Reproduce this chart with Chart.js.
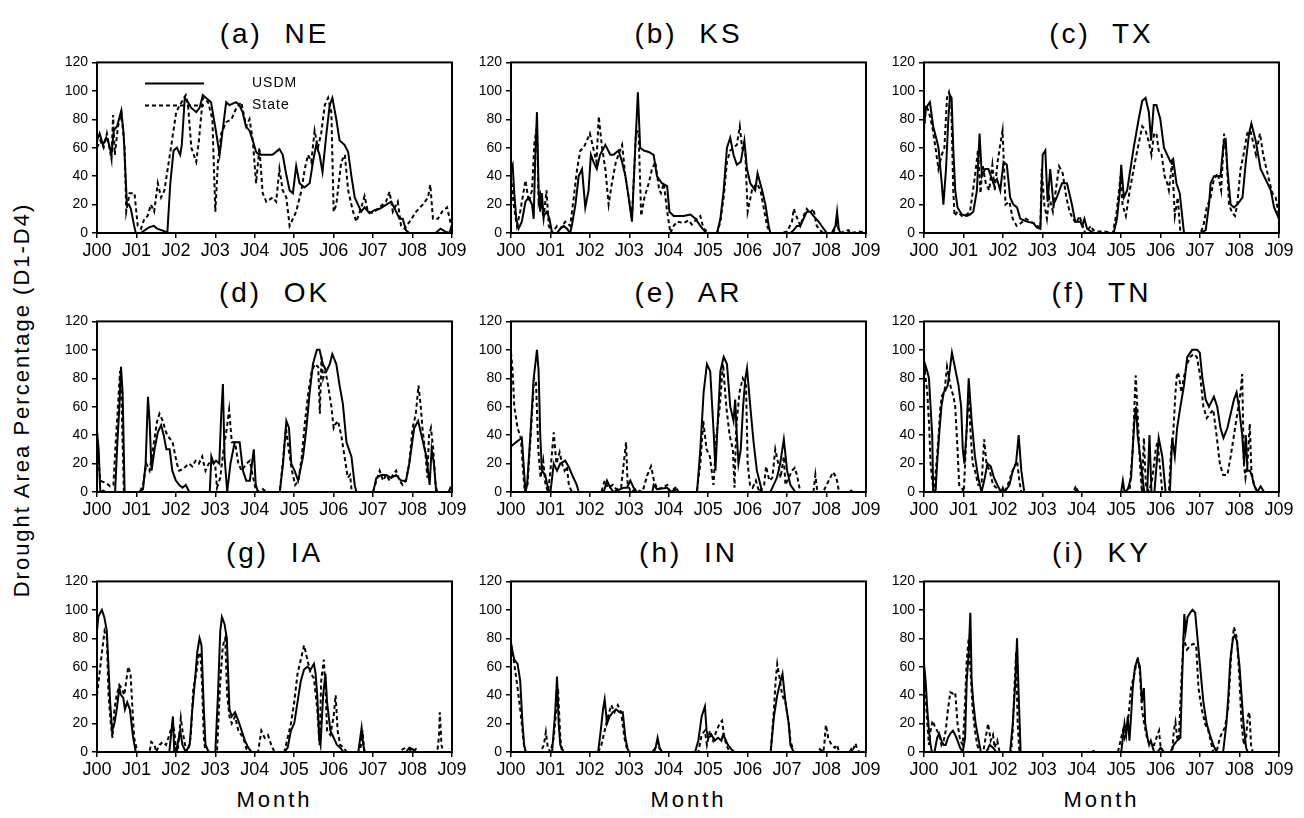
<!DOCTYPE html>
<html>
<head>
<meta charset="utf-8">
<script src="https://cdn.jsdelivr.net/npm/chart.js@4.4.0/dist/chart.umd.min.js"></script>
<style>
  body { margin: 0; background: #fff; width: 1304px; height: 818px; position: relative; overflow: hidden; font-family: 'Liberation Sans', sans-serif; color: #000; }
  .panel { position: absolute; }
  .title { position: absolute; transform: translate(-50%, -50%); font-size: 28px; letter-spacing: 3px; word-spacing: 0px; white-space: pre; }
  .month { position: absolute; transform: translate(-50%, -50%); font-size: 22px; letter-spacing: 3px; }
  .ylab { position: absolute; left: 22px; top: 400px; transform: translate(-50%, -50%) rotate(-90deg); font-size: 22px; letter-spacing: 2px; white-space: nowrap; }
</style>
</head>
<body>
<div class="ylab">Drought Area Percentage (D1-D4)</div>
<script>
// x = months since Jan 2000, y = drought area percentage
const yearLabels = ['J00', 'J01', 'J02', 'J03', 'J04', 'J05', 'J06', 'J07', 'J08', 'J09'];
const panelTitles = ['(a)  NE', '(b)  KS', '(c)  TX', '(d)  OK', '(e)  AR', '(f)  TN', '(g)  IA', '(h)  IN', '(i)  KY'];
const seriesNames = ['USDM', 'State'];

const neUsdm = [[0,65],[0.8,70],[1.8,62],[2.8,67],[3.6,63],[4.4,55],[5.1,72],[6.1,75],[6.9,82],[7.4,86],[8.1,70],[8.7,40],[9.1,20],[9.7,20],[10.3,17],[11.3,5],[11.8,0],[13.3,0],[15.8,4],[17.3,5],[18.3,3],[20.8,1],[21.4,0],[22.3,35],[23.3,58],[24.3,60],[25.3,55],[25.8,62],[26.7,95],[27.7,92],[28.7,88],[30.2,85],[31.2,88],[32.2,97],[33.2,95],[34.7,92],[35.2,85],[36.3,70],[37.3,55],[39.3,92],[40.3,90],[42.3,92],[43.3,90],[44.3,85],[45.3,75],[46.4,72],[47.4,65],[48.4,57],[49.4,55],[53.4,55],[55.5,59],[56.5,55],[57.5,42],[58.6,30],[59.6,28],[60.6,47],[61.6,35],[63.1,32],[64.7,35],[65.7,50],[66.7,62],[67.7,55],[68.6,43],[69.8,70],[70.8,90],[71.6,95],[72.8,80],[73.8,65],[75.3,62],[76.4,57],[77.4,40],[78.4,25],[79.4,20],[80.4,15],[81.4,18],[82.9,14],[84.4,16],[86,17],[88,20],[89.5,22],[91,15],[92,10],[93,10],[94,2],[95,0],[103,0],[104.5,3],[106,1],[107.2,0],[108,6]];
const neState = [[0,60],[1,65],[2,60],[3,70],[4.4,52],[4.9,83],[5.4,55],[6.4,75],[7.4,85],[8.4,60],[8.9,15],[9.9,28],[11.4,28],[12.4,5],[13.4,3],[14.4,10],[15.4,12],[16.4,20],[17.4,15],[18.5,35],[19.5,25],[20.5,30],[21.5,45],[22.5,60],[24.1,85],[25.2,90],[27,97],[27.7,90],[28.7,60],[30.2,50],[31,65],[32.2,95],[33.8,92],[35.1,80],[36,15],[36.8,50],[37.8,70],[39.3,78],[40.9,80],[42.4,88],[43.9,92],[45.4,75],[46.4,80],[47.4,65],[48.4,35],[49.4,60],[50.4,28],[51.5,22],[53.5,25],[54.5,22],[55.5,45],[56.5,30],[57.6,25],[58.6,5],[59.6,10],[60.6,15],[62.2,30],[63.2,45],[64.2,55],[65.2,50],[66.2,72],[67.2,60],[68.2,70],[69.3,90],[70.3,95],[71.3,85],[72,15],[72.8,20],[74.3,50],[75.4,55],[76.4,30],[77.9,15],[78.9,8],[80.4,18],[81.4,26],[82.4,15],[83.9,14],[85.9,18],[87.9,22],[89,29],[90,15],[91.5,22],[92.5,5],[93.6,3],[95.1,8],[97.1,15],[99.1,20],[100.7,25],[101.4,34],[102.2,10],[103.7,10],[105,15],[106.5,18],[107.5,8],[108,5]];

const ksUsdm = [[0,45],[0.5,48],[1,28],[1.6,10],[2.3,3],[3.3,8],[4.4,22],[5.4,25],[6.4,20],[6.9,10],[7.4,55],[7.9,85],[8.4,30],[8.9,15],[9.4,28],[9.9,12],[10.9,15],[11.7,10],[12.5,0],[14,0],[15,3],[16,5],[17,3],[18,0],[18.5,5],[19.6,20],[20.6,40],[21.6,45],[22.6,18],[23.6,30],[24.3,55],[25.1,50],[26.1,45],[27.1,55],[28.7,62],[30.2,55],[31.2,55],[32.7,58],[33.8,50],[34.8,40],[35.8,25],[36.8,8],[37.8,60],[38.6,99],[39.3,60],[40.4,58],[41.9,57],[43.4,55],[44.4,40],[45.9,35],[47.5,33],[48.2,15],[49.5,12],[52.5,12],[54.6,13],[56.1,10],[57.6,5],[58.6,2],[59.6,0],[62.7,0],[63.7,10],[64.7,30],[65.7,60],[66.7,67],[67.7,55],[68.7,48],[69.9,50],[71,65],[71.8,45],[72.8,35],[74.3,30],[75,42],[76.4,30],[77.4,20],[78.4,5],[78.9,0],[85,0],[86,2],[87,5],[88,5],[89,10],[90,15],[91,15],[92,12],[93.6,8],[95.1,3],[96.1,0],[97.6,0],[98.7,5],[99.2,15],[99.7,3],[100.2,0],[108,0]];
const ksState = [[0,40],[0.8,20],[1.8,5],[2.8,15],[3.9,30],[4.4,37],[5.4,22],[6.4,30],[7.1,63],[7.9,75],[8.4,22],[8.9,27],[9.9,10],[10.8,30],[11.5,5],[12.5,0],[14,5],[15,3],[16.5,8],[18,5],[19.1,25],[20.1,45],[21.1,58],[22.1,60],[23.1,65],[24,70],[25,60],[26,50],[26.7,82],[27.7,60],[28.7,45],[29.7,20],[30.7,35],[31.9,50],[32.7,55],[33.8,62],[34.8,40],[35.8,25],[36.8,10],[38,70],[38.8,72],[39.6,12],[40.6,25],[41.9,35],[42.9,45],[43.9,50],[45.1,30],[45.6,28],[46.5,35],[47.5,15],[48.5,0],[49.5,5],[50.5,8],[52.5,7],[54,9],[55,6],[56.6,10],[57.6,12],[58.6,3],[60.6,0],[62.7,0],[63.7,8],[64.7,25],[65.7,50],[66.7,58],[67.7,60],[68.7,62],[69.6,75],[70.3,60],[71.3,55],[72,15],[73.3,30],[74.8,35],[75.9,30],[77.9,5],[78.9,0],[82,0],[84,1],[85.5,8],[86,17],[86.8,12],[88,5],[89,12],[90,17],[91,14],[92,17],[93,5],[94,2],[95,0],[98,0],[99.2,7],[99.7,2],[100.2,0],[102.7,2],[103.2,0],[106,1],[108,0]];

const txUsdm = [[0,75],[0.6,88],[1.8,92],[2.8,75],[3.9,65],[4.4,60],[5.4,35],[5.9,20],[6.7,45],[7.4,80],[7.9,97],[8.4,95],[8.9,60],[9.5,30],[10.2,18],[11.5,13],[13,12],[14,13],[15,15],[16.1,30],[16.9,70],[17.6,40],[18.6,45],[19.6,45],[21.1,35],[22.2,38],[23.2,30],[24.2,50],[25.2,48],[26.2,25],[27.2,20],[28.3,18],[29.3,10],[31.3,8],[33.3,7],[34.3,4],[35.4,3],[36.1,55],[36.9,58],[37.6,22],[38.4,45],[39.4,20],[40.4,25],[42,35],[43.5,35],[45,20],[46,8],[47.6,8],[48.1,5],[48.8,10],[49.6,3],[51.6,0],[57.7,0],[58.7,10],[59.6,30],[60,48],[60.8,25],[61.8,30],[62.8,45],[63.8,60],[65.3,80],[66.4,93],[67.4,95],[68.4,85],[69.1,65],[69.9,90],[70.7,90],[71.9,80],[73,60],[74,55],[75,50],[75.8,52],[76.8,35],[77.8,28],[79.1,0],[84.1,0],[85.7,2],[86.7,20],[87.2,35],[88.2,40],[89.4,40],[90.2,40],[91.1,62],[91.8,65],[92.3,45],[93.3,20],[94.3,18],[95.3,20],[96.9,25],[97.9,50],[98.9,70],[99.6,77],[100.9,65],[102.4,45],[104.5,35],[105.5,30],[106.5,18],[108,10]];
const txState = [[0,72],[0.6,90],[1.5,85],[2.5,75],[3.5,60],[4.4,45],[5.4,55],[6.2,60],[7,95],[7.6,99],[8.3,90],[8.9,30],[9.3,12],[10.2,15],[11.5,12],[13,13],[14,15],[15.5,40],[16.4,58],[17.2,28],[17.8,48],[18.8,35],[19.8,30],[20.8,48],[21.5,30],[22.4,50],[23.4,65],[23.9,72],[24.8,20],[26,22],[27,10],[28.2,5],[29.5,7],[31,10],[32.5,8],[34,6],[35.4,3],[35.8,45],[36.6,20],[37.4,10],[38.1,25],[39.2,15],[40.1,30],[41.1,47],[42.2,42],[43.3,25],[44.3,15],[45.3,10],[46.3,7],[47.3,12],[48.3,5],[49,0],[50.8,5],[51.5,2],[53,1],[55,1],[57.5,0],[58.6,15],[59.8,40],[60.4,20],[61.4,12],[62.6,30],[64.2,50],[65.5,65],[66.4,75],[67.4,72],[68.3,65],[69.2,55],[70,70],[70.7,70],[71.4,58],[72.3,55],[73.2,40],[74,35],[74.5,30],[75.5,50],[76.3,12],[77.2,25],[78,0],[84.1,0],[85,5],[86,18],[87.2,25],[88.2,38],[89.4,42],[90.4,30],[91.3,70],[92,55],[92.8,20],[93.6,15],[94.6,12],[95.3,20],[96.3,45],[97.2,55],[98.3,70],[99.3,72],[100,65],[101,55],[102.2,70],[103.2,55],[104.2,45],[105.2,35],[106,28],[107,25],[108,12]];

const okUsdm = [[0,43],[0.5,30],[1,0],[2,1],[2.5,0],[5.5,0],[6.2,35],[6.8,60],[7.3,88],[7.8,70],[8.4,0],[13,0],[14,2],[14.8,20],[15.5,67],[16,50],[16.6,15],[17.5,30],[18.5,42],[19.5,47],[20.3,40],[21.1,30],[22.1,30],[22.9,15],[24,8],[25,5],[26,3],[27,5],[28.1,0],[34.3,0],[34.8,25],[35.5,20],[36.2,22],[37.2,20],[37.8,55],[38.3,76],[38.8,25],[39.6,0],[40.6,20],[41.9,35],[43.4,35],[44.4,15],[45.4,8],[46.5,8],[47.7,30],[48.3,5],[49,0],[55.6,0],[56.6,20],[57.6,50],[58.4,45],[59.1,20],[60.1,15],[61.2,8],[62.7,25],[63.7,45],[64.7,70],[65.7,90],[66.9,100],[67.7,100],[68.7,90],[69.8,85],[70.8,90],[71.6,97],[72.8,90],[73.8,75],[74.8,62],[75.9,35],[77.4,25],[78.4,5],[78.9,0],[84,0],[85,10],[86.5,12],[88,12],[89.5,10],[91,12],[92.5,8],[94,8],[95,20],[96.5,45],[97.7,50],[98.7,40],[100.2,25],[101.2,5],[101.8,30],[102.5,20],[103.2,0],[107,0],[107.5,3],[108,2]];
const okState = [[0,42],[0.5,20],[1,8],[2,7],[3,6],[4,4],[5,5],[5.7,35],[6.5,65],[7,85],[7.5,60],[8.2,0],[13,0],[14,5],[15,20],[16,15],[17,30],[18.3,50],[19,55],[20,50],[21,42],[22,38],[23,35],[24.3,20],[25,15],[26,16],[27,18],[28,20],[29,18],[30,22],[31,20],[32,25],[33,15],[34,20],[35,22],[36,18],[36.5,3],[37.5,10],[38.5,30],[39.5,45],[40.2,58],[41,35],[42,35],[43,20],[44,15],[45.5,20],[46.5,22],[47.5,10],[48.5,0],[50.5,2],[51.5,0],[55.6,0],[56.5,20],[57.5,45],[58.3,30],[59.3,15],[60.3,5],[61.3,8],[62.3,25],[63.3,50],[64.3,70],[65.3,85],[66.3,90],[67.3,88],[67.8,55],[68.3,95],[68.8,80],[69.5,85],[70.3,75],[71.3,60],[72,45],[72.6,48],[73.3,50],[74.3,40],[75.3,25],[76.3,10],[77,12],[77.5,0],[84,0],[85,8],[86,15],[87,8],[88,12],[89,8],[90,12],[91,15],[92,8],[93,5],[94,8],[95,20],[96,45],[97,55],[97.8,75],[98.5,60],[99,45],[100,25],[100.5,10],[101,40],[101.6,45],[102.3,30],[103,5],[103.5,0],[108,0]];

const arUsdm = [[0,32],[1.5,35],[3.3,38],[4.4,0],[4.9,5],[5.9,40],[6.9,80],[7.9,100],[8.4,85],[8.9,40],[9.4,15],[10.4,12],[11.5,0],[12,0],[13,20],[14,15],[15,20],[16.5,22],[17.5,18],[19,10],[20,5],[20.6,0],[28.2,0],[29.2,8],[30.2,3],[31.2,0],[34.3,3],[35.3,3],[36.3,8],[37.3,3],[38.3,0],[43,0],[43.4,5],[44.4,2],[47.5,3],[48.5,0],[50.5,2],[51,0],[56.6,0],[57.6,30],[58.6,70],[59.6,90],[60.6,85],[61.7,40],[62.2,15],[62.7,40],[63.7,85],[64.7,95],[65.7,90],[66.7,60],[67.7,50],[68.2,65],[68.7,40],[69.2,20],[69.9,30],[70.6,60],[71.3,80],[71.8,87],[72.8,60],[73.8,35],[74.8,15],[75.9,5],[76.4,0],[78.9,0],[79.9,5],[80.9,10],[81.9,20],[83,37],[84,15],[85,5],[86.5,0],[103,0],[103.5,1],[104,0],[108,0]];
const arState = [[0,98],[0.5,85],[1,60],[2,45],[3,38],[3.5,20],[4.2,0],[5,5],[6,40],[7,80],[7.6,78],[8.3,30],[9,10],[9.8,22],[10.5,5],[11.3,0],[12,15],[13,42],[13.8,20],[14.8,28],[15.5,20],[16.3,15],[17,18],[17.6,5],[18.5,0],[27.5,0],[28.5,8],[29.5,3],[31,5],[32,2],[33.5,3],[35,35],[35.5,5],[36.5,0],[38,2],[40,0],[41.5,12],[42.6,18],[43.5,8],[44.5,2],[46,3],[47.5,5],[48.5,0],[50,3],[51,0],[56.5,0],[57.6,20],[58.5,50],[59.5,30],[60.5,25],[61.6,5],[62.5,40],[63.5,60],[64.5,90],[65.5,60],[66.5,40],[67.5,30],[68,3],[68.5,45],[69.5,70],[70,75],[70.5,80],[71.5,75],[72,20],[72.7,5],[73.5,3],[74.5,8],[75.5,0],[77,5],[77.6,18],[78.6,8],[79.5,10],[80.4,30],[81.3,20],[82,10],[83,25],[83.5,5],[84.5,10],[85.5,15],[86.3,17],[87,12],[88,0],[92,0],[92.6,12],[93.2,0],[95,0],[96,5],[97.1,10],[98,14],[99,10],[99.8,0],[108,0]];

const tnUsdm = [[0,85],[0.3,90],[1,85],[1.5,80],[2,60],[2.5,40],[2.8,0],[3.5,0],[4,20],[4.6,40],[5.3,60],[6,70],[6.6,72],[7.2,75],[7.8,85],[8.5,98],[9.2,90],[10.5,75],[11.3,60],[11.8,30],[12.3,20],[13,45],[13.6,80],[14.5,50],[15.5,25],[16.5,10],[17.5,0],[18.5,10],[19.3,20],[20.3,18],[21.3,10],[22.3,5],[23.5,0],[24,3],[24.5,0],[26,5],[27,15],[28,20],[28.8,40],[29.6,15],[30.5,0],[46,0],[46.5,2],[47,0],[60,0],[60.5,8],[61,0],[62,2],[63,10],[64,50],[64.5,60],[65,40],[66,20],[67,0],[67.9,0],[68.6,40],[69.2,0],[70.1,0],[71.4,38],[72.5,25],[73.5,0],[74.8,0],[75.5,38],[76.3,25],[77,45],[78,60],[79.1,75],[80.1,95],[81.6,100],[83.1,100],[83.9,98],[84.7,80],[85.7,65],[86.7,60],[88.2,67],[89.2,60],[90.2,45],[91.1,38],[92.3,45],[93.3,55],[94.3,65],[95.1,70],[95.8,60],[96.8,40],[97.4,20],[97.9,40],[98.4,15],[99.2,15],[99.9,10],[100.4,5],[101.4,0],[102.4,4],[103.5,0],[108,0]];
const tnState = [[0,90],[0.5,80],[1,70],[1.6,45],[2,20],[2.4,10],[3,0],[3.6,15],[4.3,35],[5,60],[5.5,68],[6.2,70],[7,88],[7.6,80],[8.3,72],[8.9,68],[9.5,60],[10.2,30],[10.7,5],[11.5,3],[12.1,0],[13,45],[13.6,70],[14.2,40],[14.8,20],[15.5,15],[16.5,5],[17.5,5],[18.3,37],[19,20],[20,15],[21,5],[22,3],[23,0],[24.5,0],[25.5,5],[26.5,12],[27.5,18],[28.3,22],[29,8],[29.6,0],[45.5,0],[46,3],[46.5,0],[62.5,0],[63.5,30],[64.4,82],[65,55],[65.7,20],[66.3,0],[66.9,38],[67.5,5],[68.5,0],[69.5,10],[70.5,30],[71,35],[71.7,20],[72.5,0],[74.5,0],[75.2,30],[75.8,40],[76.5,70],[77,84],[77.5,82],[78.3,70],[79,80],[80,90],[81,95],[82,97],[83,95],[84,82],[85,60],[86,52],[87,55],[88,58],[89,40],[90,20],[91,12],[92.3,12],[93.3,25],[94.3,40],[95.3,55],[96.3,70],[96.8,83],[97.3,20],[97.8,10],[98.4,20],[99.1,48],[99.6,15],[100.4,5],[101.4,0],[108,0]];

const iaUsdm = [[0,85],[0.4,95],[1,98],[1.5,100],[2.2,95],[3,85],[3.5,60],[4,35],[4.6,15],[5.3,20],[6,30],[6.8,45],[7.3,40],[8,38],[8.5,30],[9.2,35],[10,30],[11,10],[11.8,0],[22,0],[23.1,25],[23.5,0],[24.5,5],[25.3,15],[26,5],[27,0],[28.2,5],[29,30],[29.8,50],[30.5,70],[31.2,80],[31.8,75],[32.5,30],[33,5],[34,0],[36,0],[36.8,40],[37.5,85],[38,95],[38.8,90],[39.5,80],[40.3,30],[41,25],[42,28],[43,22],[44,15],[45,8],[46,3],[47,0],[57,0],[58,3],[59,15],[60,20],[61,35],[62,50],[63,58],[64,60],[65,58],[66,62],[66.5,55],[67,40],[67.6,10],[68,5],[68.8,40],[69.5,55],[70,35],[71,15],[72,10],[73,5],[74,3],[75,0],[79.5,0],[80.5,17],[81,5],[81.5,0],[94,0],[95,3],[96,2],[97,0],[108,0]];
const iaState = [[0,40],[0.5,50],[1.5,70],[2.3,85],[3,80],[3.5,40],[4.2,20],[4.7,10],[5.3,30],[6,40],[6.8,47],[7.5,45],[8.3,40],[8.9,50],[9.5,60],[10.2,55],[10.8,30],[11.3,10],[12,3],[12.5,0],[16,0],[16.5,7],[17.5,5],[18,0],[19,5],[20,7],[21,5],[22,12],[23,20],[23.5,15],[24,3],[24.5,0],[25.5,24],[26,15],[26.8,5],[27.5,0],[28.5,10],[29.3,45],[30.2,55],[31,70],[31.5,68],[32,45],[32.5,10],[33,0],[36.5,0],[37.5,50],[38.3,75],[39,80],[39.6,40],[40.3,25],[41,20],[42,25],[43,15],[44.5,10],[45.5,2],[47,0],[49,0],[50,15],[51,10],[52,12],[53,5],[54,0],[57,0],[58,10],[59,20],[60,35],[61,55],[62,65],[63,75],[63.5,70],[64.5,60],[65,55],[66,52],[67,30],[67.7,5],[68.2,50],[69,65],[69.5,45],[70,15],[71,12],[72,25],[72.6,40],[73.2,15],[74,5],[75,3],[76,0],[80,0],[80.8,15],[81.3,0],[92,0],[93,2],[94,3],[95,2],[96,0],[97,2],[98,0],[103.5,0],[104,10],[104.3,28],[104.8,5],[105.3,0],[108,0]];

const inUsdm = [[0,77],[0.5,70],[1,65],[2,62],[2.8,50],[3.5,20],[4,5],[4.5,0],[12.5,0],[13,15],[13.5,30],[14,53],[14.5,20],[15,5],[16,0],[26.5,0],[27.3,15],[28,30],[28.5,37],[29.2,20],[30,25],[31,28],[32,30],[33,28],[34,28],[34.8,10],[35.5,2],[36,0],[43,0],[44,3],[44.6,10],[45.2,3],[46,0],[56,0],[57,8],[58,25],[59,32],[59.5,15],[60,10],[61,12],[62,8],[63,10],[64,8],[64.5,12],[65,10],[66,5],[67,2],[68,0],[79,0],[80,25],[81,40],[82,50],[82.6,55],[83.5,35],[84.5,20],[85,5],[86,0],[103,0],[103.5,2],[104,0],[108,0]];
const inState = [[0,75],[0.5,70],[1,62],[2,45],[2.8,30],[3.5,15],[4,3],[4.5,0],[9,0],[10,5],[10.6,14],[11.2,3],[12,0],[13,10],[13.8,30],[14.3,45],[15,10],[15.5,0],[26.5,0],[27.5,5],[28.5,15],[29.5,25],[30.5,33],[31.5,28],[32.5,33],[33.5,28],[34.5,10],[35.5,0],[43.5,0],[44.5,7],[45,4],[45.5,0],[57,0],[58,12],[59,15],[59.6,5],[60.5,15],[61.5,8],[62.5,15],[63.5,20],[64.2,22],[64.8,12],[65.5,5],[66.5,0],[79,0],[80,30],[80.5,50],[81,62],[81.5,55],[82.5,40],[83.5,35],[84.5,20],[85,8],[86,0],[93,0],[94,2],[95,0],[95.3,5],[95.8,19],[96.5,10],[97.5,5],[98.5,3],[99.2,5],[99.8,0],[103.5,0],[104.3,3],[104.8,6],[105.3,2],[106,0],[108,0]];

const kyUsdm = [[0,62],[0.5,50],[1,30],[1.5,15],[2,5],[2.4,0],[3.2,0],[4,10],[4.6,13],[5.3,8],[6,5],[6.6,5],[7.3,10],[8,13],[8.8,15],[9.5,12],[10.2,8],[11,3],[11.8,0],[12.5,10],[13,50],[13.6,70],[14.1,98],[14.5,50],[15,35],[15.7,20],[16.5,10],[17.3,0],[19,0],[20,5],[21,3],[22,0],[26.2,0],[27,20],[27.8,50],[28.3,80],[28.8,40],[29.4,0],[60,0],[60.5,10],[61,20],[61.5,12],[62,25],[62.5,8],[63,25],[63.5,45],[64.2,60],[65,65],[65.7,60],[66.3,35],[66.9,45],[67.3,20],[68,10],[68.5,5],[69,8],[70,0],[71,0],[72,3],[73,0],[75,0],[76,5],[77,8],[78,10],[78.5,50],[79.2,97],[79.6,85],[80.2,95],[81,98],[81.7,100],[82.5,98],[83,85],[84,60],[85,35],[86,20],[87,12],[88,5],[89,0],[91,0],[92,20],[92.6,40],[93.2,65],[94,80],[94.5,82],[95.2,78],[96,60],[96.6,40],[97.2,20],[98,3],[98.5,0],[108,0]];
const kyState = [[0,55],[0.5,40],[1,20],[1.5,5],[2,15],[2.6,22],[3.3,18],[4,15],[4.6,12],[5.3,5],[6,8],[6.6,15],[7.3,30],[8,42],[8.8,41],[9.5,42],[10.2,20],[11,8],[11.8,5],[12.4,30],[13,65],[13.6,80],[14.2,55],[14.8,30],[15.5,15],[16.2,5],[17,0],[18,0],[19.5,20],[20.3,8],[21,12],[21.5,3],[22.3,8],[23,0],[26.5,0],[27,15],[27.5,45],[28,70],[28.5,20],[29,0],[51,0],[52,1],[52.5,0],[59,0],[59.5,5],[60.5,15],[61,10],[62,20],[63,45],[64,55],[65,67],[65.7,55],[66.3,30],[67,20],[68,8],[69,5],[70,5],[71,12],[71.5,15],[72,3],[73,0],[75.5,0],[76,15],[76.5,21],[77,10],[77.5,8],[78.5,60],[79,80],[80,72],[81,75],[82,76],[82.8,75],[83.5,45],[84.5,30],[85.5,20],[86.5,15],[87.5,5],[88,0],[89,0],[90,10],[91,15],[91.5,17],[92.5,30],[93.5,70],[94.3,88],[95.2,80],[96,50],[96.6,20],[97.3,5],[98,10],[98.5,25],[99,28],[99.5,5],[100,0],[108,0]];

const usdmSeries = [neUsdm, ksUsdm, txUsdm, okUsdm, arUsdm, tnUsdm, iaUsdm, inUsdm, kyUsdm];
const stateSeries = [neState, ksState, txState, okState, arState, tnState, iaState, inState, kyState];

// plot-area placement of each panel on the page
const colLeft = [97, 511, 924];
const rowTop = [60, 319, 579];
const plotW = 355, plotH = 173;
const padL = 60, padR = 60, padT = 10, axisH = 30;

const tickFont = "'Liberation Sans Narrow', 'Liberation Sans', sans-serif";

const frame = {
  id: 'frame',
  afterDraw(chart) {
    const { ctx, chartArea: a } = chart;
    ctx.save();
    ctx.strokeStyle = '#000';
    ctx.lineWidth = 2;
    ctx.strokeRect(a.left, a.top, a.right - a.left, a.bottom - a.top);
    ctx.restore();
  }
};

const keyBox = {
  id: 'keyBox',
  afterDraw(chart, args, opts) {
    if (!opts.show) return;
    const { ctx, chartArea: a } = chart;
    ctx.save();
    ctx.strokeStyle = '#000';
    ctx.fillStyle = '#000';
    ctx.lineWidth = 2;
    ctx.font = "14px 'Liberation Sans', sans-serif";
    ctx.letterSpacing = '1px';
    ctx.textBaseline = 'middle';
    const rows = [[a.top + 21, []], [a.top + 43, [4, 3]]];
    rows.forEach(([y, dash], i) => {
      ctx.setLineDash(dash);
      ctx.beginPath();
      ctx.moveTo(a.left + 48, y);
      ctx.lineTo(a.left + 107, y);
      ctx.stroke();
      ctx.fillText(seriesNames[i], a.left + 155, y);
    });
    ctx.restore();
  }
};

panelTitles.forEach((title, i) => {
  const col = i % 3, row = Math.floor(i / 3);
  const left = colLeft[col], top = rowTop[row];

  const t = document.createElement('div');
  t.className = 'title';
  t.textContent = title;
  t.style.left = (left + plotW / 2) + 'px';
  t.style.top = (top - 26) + 'px';
  document.body.appendChild(t);

  const box = document.createElement('div');
  box.className = 'panel';
  box.style.left = (left - padL) + 'px';
  box.style.top = (top - padT) + 'px';
  const cv = document.createElement('canvas');
  cv.width = padL + plotW + padR;
  cv.height = padT + plotH + axisH;
  box.appendChild(cv);
  document.body.appendChild(box);

  new Chart(cv, {
    type: 'line',
    data: {
      datasets: [
        { label: seriesNames[0], data: usdmSeries[i], borderColor: '#000', borderWidth: 2, pointRadius: 0, tension: 0, fill: false },
        { label: seriesNames[1], data: stateSeries[i], borderColor: '#000', borderWidth: 2, borderDash: [4, 3], pointRadius: 0, tension: 0, fill: false }
      ]
    },
    options: {
      responsive: false,
      animation: false,
      layout: { padding: { left: 0, right: padR, top: padT, bottom: 0 } },
      plugins: { legend: { display: false }, tooltip: { enabled: false }, keyBox: { show: i === 0 } },
      scales: {
        x: {
          type: 'linear', min: 0, max: 108,
          ticks: { stepSize: 12, autoSkip: false, maxRotation: 0, color: '#000', padding: 2,
                   font: { family: tickFont, size: 18 },
                   callback: v => yearLabels[Math.round(v / 12)] },
          grid: { drawOnChartArea: false, drawTicks: true, tickLength: 5, color: '#000', lineWidth: 1.5 },
          border: { display: false },
          afterFit: s => { s.height = axisH; }
        },
        y: {
          min: 0, max: 120,
          ticks: { stepSize: 20, color: '#000', padding: 4, font: { family: tickFont, size: 14 } },
          grid: { drawOnChartArea: false, drawTicks: true, tickLength: 5, color: '#000', lineWidth: 1.5 },
          border: { display: false },
          afterFit: s => { s.width = padL; }
        }
      }
    },
    plugins: [frame, keyBox]
  });

  if (row === 2) {
    const m = document.createElement('div');
    m.className = 'month';
    m.textContent = 'Month';
    m.style.left = (left + plotW / 2) + 'px';
    m.style.top = '800px';
    document.body.appendChild(m);
  }
});
</script>
</body>
</html>
